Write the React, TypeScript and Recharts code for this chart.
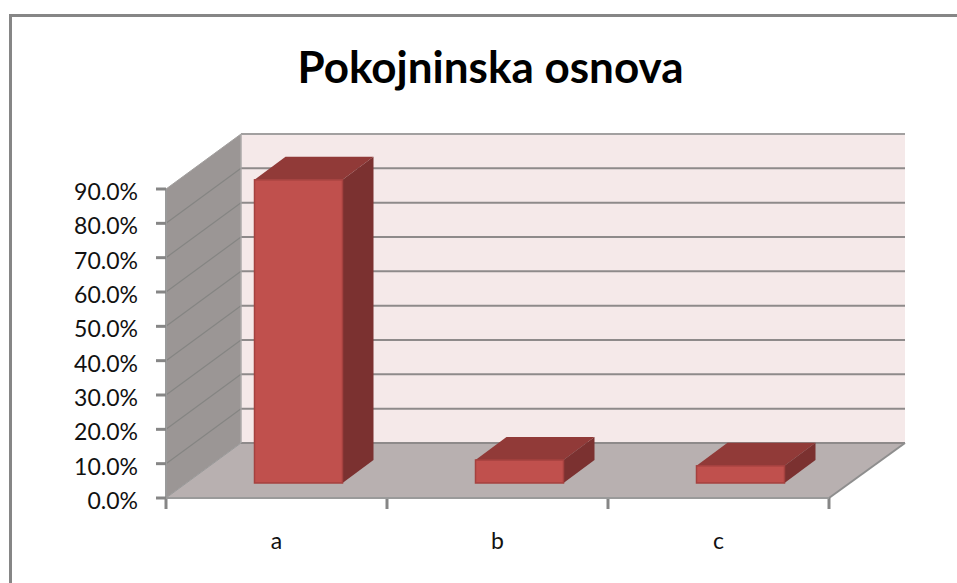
import { BarChart, Bar, XAxis, YAxis, ReferenceArea } from 'recharts';

const categories = ['a', 'b', 'c'];
const shares = [88.3, 6.7, 5.0];
const yTicks = [0, 10, 20, 30, 40, 50, 60, 70, 80, 90];

const rows = categories.map((name, i) => ({ name, share: shares[i] }));

const FONT = 'Lato, "Open Sans", sans-serif';
const AXIS_GREY = '#868686';

// how far the back wall sits from the front of the floor
const WALL_DX = 75;
const WALL_DY = 55;
// bar box: where it stands on the floor, and its own depth
const BAR_DX = 21.5;
const BAR_DY = 15;
const BAR_DEPTH_X = 31;
const BAR_DEPTH_Y = 23;

function Walls({ x, y, width, height }: any) {
    const bottom = y + height;
    const right = x + width;
    const bx = x + WALL_DX;
    const by = y - WALL_DY;
    const bBottom = bottom - WALL_DY;
    const bRight = right + WALL_DX + 1;
    return (
        <g>
            <rect x={bx} y={by} width={bRight - bx} height={height} fill="#f5e9e9" />
            <polygon
                points={`${x},${y} ${bx},${by} ${bx},${bBottom} ${x},${bottom}`}
                fill="#9b9695"
                stroke="#a3a09f"
                strokeWidth={1}
            />
            <polygon
                points={`${x},${bottom} ${bx},${bBottom} ${bRight},${bBottom} ${right},${bottom}`}
                fill="#b8b0b0"
            />
            {yTicks.map((t) => {
                const ty = bottom - (t / 90) * height;
                return (
                    <g key={t}>
                        {t > 0 && t < 90 && <line x1={x} y1={ty} x2={bx} y2={ty - WALL_DY} stroke="#858583" strokeWidth={1.2} />}
                        <line
                            x1={bx}
                            y1={ty - WALL_DY}
                            x2={bRight}
                            y2={ty - WALL_DY}
                            stroke={t === 90 ? '#a2a0a0' : '#8e8a8a'}
                            strokeWidth={2}
                        />
                    </g>
                );
            })}
            <line x1={x} y1={bottom} x2={bx} y2={bBottom} stroke="#9a9a9a" strokeWidth={1} />
            <line x1={right} y1={bottom} x2={bRight} y2={bBottom} stroke="#8e8e8e" strokeWidth={2} />
            <line x1={bx} y1={by} x2={bx} y2={bBottom} stroke="#b0aeae" strokeWidth={1} />
            <line x1={x} y1={y} x2={x} y2={bottom} stroke="#9a9a9a" strokeWidth={2} />
            {/* category ticks sit on the boundaries, not on the labels */}
            {[0, 1, 2, 3].map((i) => {
                const tx = x + (i * width) / categories.length;
                return <line key={i} x1={tx} y1={bottom} x2={tx} y2={bottom + 11} stroke={AXIS_GREY} strokeWidth={3} />;
            })}
        </g>
    );
}

function BoxBar({ x, y, width, height }: any) {
    const fx = x + BAR_DX;
    const fy = y - BAR_DY;
    const fr = fx + width;
    const fb = fy + height;
    return (
        <g>
            <polygon
                points={`${fx},${fy} ${fx + BAR_DEPTH_X},${fy - BAR_DEPTH_Y} ${fr + BAR_DEPTH_X},${fy - BAR_DEPTH_Y} ${fr},${fy}`}
                fill="#913a38"
            />
            <polygon
                points={`${fr},${fy} ${fr + BAR_DEPTH_X},${fy - BAR_DEPTH_Y} ${fr + BAR_DEPTH_X},${fb - BAR_DEPTH_Y} ${fr},${fb}`}
                fill="#7b3130"
            />
            <rect x={fx} y={fy} width={width} height={height} fill="#c0504d" stroke="#a5413f" strokeWidth={1.5} />
        </g>
    );
}

export default function App() {
    return (
        <div style={{ position: 'absolute', left: 0, top: 0, width: 957, height: 583, background: '#fff', overflow: 'hidden' }}>
            <div
                style={{
                    position: 'absolute',
                    left: 9,
                    top: 14,
                    right: 0,
                    bottom: 0,
                    borderLeft: `3px solid ${AXIS_GREY}`,
                    borderTop: `3px solid ${AXIS_GREY}`,
                }}
            />
            <div
                style={{
                    position: 'absolute',
                    left: 0,
                    top: 38,
                    width: 981,
                    textAlign: 'center',
                    fontFamily: FONT,
                    fontSize: 44,
                    fontWeight: 700,
                    lineHeight: '56px',
                    color: '#000',
                }}
            >
                Pokojninska osnova
            </div>
            <div style={{ position: 'absolute', left: 0, top: 0 }}>
                <BarChart
                    width={957}
                    height={583}
                    data={rows}
                    barSize={88}
                    margin={{ top: 189, right: 128, bottom: 25, left: 66 }}
                >
                    <ReferenceArea y1={0} y2={90} shape={Walls} />
                    <XAxis
                        dataKey="name"
                        height={60}
                        stroke="#9a9a9a"
                        strokeWidth={2}
                        tickLine={false}
                        tickSize={11}
                        tickMargin={24}
                        tick={{ fill: '#111', fontFamily: FONT, fontSize: 23 }}
                    />
                    <YAxis
                        width={100}
                        domain={[0, 90]}
                        ticks={yTicks}
                        interval={0}
                        axisLine={false}
                        stroke={AXIS_GREY}
                        strokeWidth={3}
                        tickSize={10}
                        tickMargin={18}
                        tick={{ fill: '#111', fontFamily: FONT, fontSize: 23, dy: 3 }}
                        tickFormatter={(v: number) => `${v.toFixed(1)}%`}
                    />
                    <Bar dataKey="share" shape={BoxBar} isAnimationActive={false} />
                </BarChart>
            </div>
        </div>
    );
}
